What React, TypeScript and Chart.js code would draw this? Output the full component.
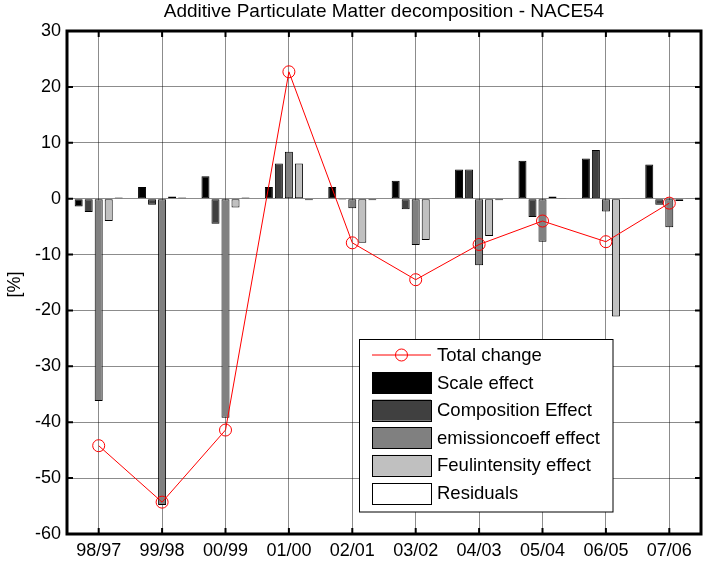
import React, { useEffect, useRef } from 'react';
import { Chart, registerables } from 'chart.js';

Chart.register(...registerables);

const categories = ['98/97', '99/98', '00/99', '01/00', '02/01', '03/02', '04/03', '05/04', '06/05', '07/06'];
const totalChange = [-44.2, -54.3, -41.4, 22.7, -7.9, -14.5, -8.2, -4.0, -7.7, -0.8];
const scaleEffect = [-1.4, 2.1, 4.0, 2.1, 2.1, 3.2, 5.2, 6.8, 7.2, 6.1];
const compositionEffect = [-2.4, -1.1, -4.5, 6.3, -0.2, -1.9, 5.2, -3.3, 8.7, -1.1];
const emissionCoeffEffect = [-36.2, -54.8, -39.2, 8.4, -1.7, -8.3, -11.9, -7.7, -2.3, -5.1];
const feulIntensityEffect = [-4.0, 0.4, -1.6, 6.3, -7.9, -7.4, -6.7, 0.4, -21.1, -0.4];
const residuals = [0.2, 0.2, 0.2, -0.3, -0.3, 0.1, -0.3, 0.1, 0.1, 0.1];

const yMin = -60;
const yMax = 30;
const yStep = 10;

const titleText = 'Additive Particulate Matter decomposition - NACE54';
const yTitleText = '[%]';

const seriesLabels = ['Total change', 'Scale effect', 'Composition Effect', 'emissioncoeff effect', 'Feulintensity effect', 'Residuals'];
const barColors = ['#000000', '#404040', '#808080', '#c0c0c0', '#ffffff'];
const lineColor = '#ff0000';

const FONT = '"Liberation Sans", Arial, Helvetica, sans-serif';

const decorPlugin = {
  id: 'decor',
  beforeDraw(chart: any) {
    const { ctx, width, height } = chart;
    ctx.save();
    ctx.fillStyle = '#ffffff';
    ctx.fillRect(0, 0, width, height);
    ctx.restore();
  },
  afterDraw(chart: any) {
    const { ctx, chartArea } = chart;
    const { left, right, top, bottom } = chartArea;
    const xs = chart.scales.x;
    const ys = chart.scales.y;
    ctx.save();

    // inward ticks
    ctx.strokeStyle = '#000';
    ctx.lineWidth = 2;
    ctx.beginPath();
    for (let i = 0; i < categories.length; i++) {
      const x = xs.getPixelForValue(i);
      ctx.moveTo(x, bottom);
      ctx.lineTo(x, bottom - 6);
      ctx.moveTo(x, top);
      ctx.lineTo(x, top + 6);
    }
    for (let v = yMin; v <= yMax; v += yStep) {
      const y = ys.getPixelForValue(v);
      ctx.moveTo(left, y);
      ctx.lineTo(left + 6, y);
      ctx.moveTo(right, y);
      ctx.lineTo(right - 6, y);
    }
    ctx.stroke();

    // frame
    ctx.lineWidth = 3;
    ctx.strokeRect(left, top, right - left, bottom - top);

    // title
    ctx.fillStyle = '#000';
    ctx.font = `19px ${FONT}`;
    ctx.textAlign = 'center';
    ctx.textBaseline = 'alphabetic';
    ctx.fillText(titleText, (left + right) / 2, 17);

    // y title
    ctx.save();
    ctx.translate(15, (top + bottom) / 2 + 2);
    ctx.rotate(-Math.PI / 2);
    ctx.font = `18px ${FONT}`;
    ctx.textAlign = 'center';
    ctx.textBaseline = 'middle';
    ctx.fillText(yTitleText, 0, 0);
    ctx.restore();

    // legend
    const lx = 359.5, ly = 339.5, lw = 253.5, lh = 172.5;
    ctx.fillStyle = '#fff';
    ctx.fillRect(lx, ly, lw, lh);
    ctx.strokeStyle = '#000';
    ctx.lineWidth = 1;
    ctx.strokeRect(lx, ly, lw, lh);
    const sx = 372, sw = 59, sh = 21;
    ctx.font = `18.5px ${FONT}`;
    ctx.textAlign = 'left';
    ctx.textBaseline = 'middle';
    for (let i = 0; i < seriesLabels.length; i++) {
      const cy = 355 + i * 27.6;
      if (i === 0) {
        ctx.strokeStyle = lineColor;
        ctx.lineWidth = 1;
        ctx.beginPath();
        ctx.moveTo(sx, cy);
        ctx.lineTo(sx + sw, cy);
        ctx.stroke();
        ctx.beginPath();
        ctx.arc(sx + sw / 2, cy, 6, 0, Math.PI * 2);
        ctx.stroke();
      } else {
        ctx.fillStyle = barColors[i - 1];
        ctx.fillRect(sx, cy - sh / 2, sw, sh);
        ctx.strokeStyle = '#000';
        ctx.lineWidth = 1;
        ctx.strokeRect(sx + 0.5, Math.round(cy - sh / 2) + 0.5, sw, sh);
      }
      ctx.fillStyle = '#000';
      ctx.fillText(seriesLabels[i], 437, cy + 1);
    }
    ctx.restore();
  },
};

export default function App() {
  const ref = useRef<HTMLCanvasElement | null>(null);

  useEffect(() => {
    document.body.style.margin = '0';
    const canvas = ref.current;
    if (!canvas) return;
    const barSeries = [scaleEffect, compositionEffect, emissionCoeffEffect, feulIntensityEffect, residuals];
    const datasets: any[] = [
      {
        type: 'line',
        label: seriesLabels[0],
        data: totalChange,
        borderColor: lineColor,
        borderWidth: 1,
        pointRadius: 6,
        pointStyle: 'circle',
        pointBackgroundColor: 'rgba(0,0,0,0)',
        pointBorderColor: lineColor,
        pointBorderWidth: 1,
        tension: 0,
        fill: false,
        order: 0,
      },
      ...barSeries.map((d, i) => ({
        type: 'bar',
        label: seriesLabels[i + 1],
        data: d,
        backgroundColor: barColors[i],
        borderColor: '#000000',
        borderWidth: 1,
        borderSkipped: false,
        categoryPercentage: 0.79,
        barPercentage: 0.8,
        order: 1,
      })),
    ];

    const chart = new Chart(canvas, {
      type: 'bar',
      data: { labels: categories, datasets },
      plugins: [decorPlugin],
      options: {
        animation: false,
        responsive: false,
        devicePixelRatio: 1,
        layout: { padding: { top: 31, right: 3, left: 0, bottom: 0 } },
        plugins: {
          legend: { display: false },
          title: { display: false },
          tooltip: { enabled: false },
        },
        scales: {
          x: {
            offset: true,
            grid: { offset: false, color: 'rgba(0,0,0,0.45)', lineWidth: 1, drawTicks: false },
            border: { display: false },
            ticks: { color: '#000', font: { family: FONT, size: 18 }, padding: 6, maxRotation: 0, autoSkip: false },
            afterFit: (s: any) => { s.height = 28; },
          },
          y: {
            min: yMin,
            max: yMax,
            grid: { color: 'rgba(0,0,0,0.45)', lineWidth: 1, drawTicks: false },
            border: { display: false },
            ticks: { stepSize: yStep, color: '#000', font: { family: FONT, size: 18 }, padding: 6 },
            afterFit: (s: any) => { s.width = 67; },
          },
        },
      } as any,
    });
    return () => chart.destroy();
  }, []);

  return (
    <div style={{ position: 'absolute', left: 0, top: 0, width: 708, height: 562 }}>
      <canvas ref={ref} width={708} height={562} style={{ display: 'block' }} />
    </div>
  );
}
